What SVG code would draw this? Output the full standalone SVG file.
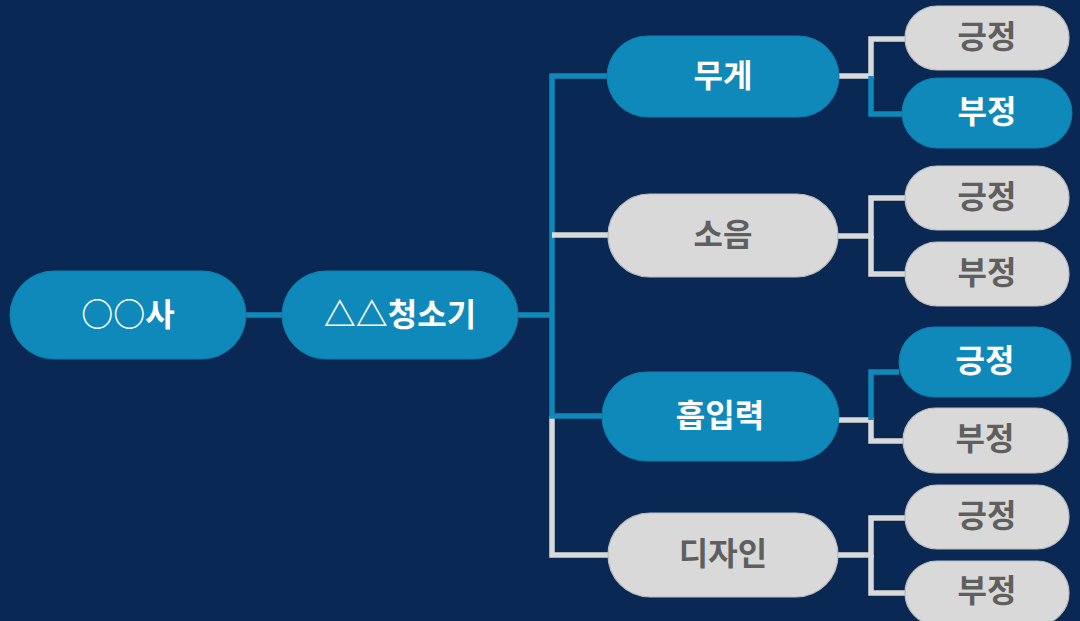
<svg xmlns="http://www.w3.org/2000/svg" width="1080" height="621" viewBox="0 0 1080 621">
<style>
.bg{fill:#0a2854}
.nb{fill:#0f89b9;stroke:#0d7fae;stroke-width:1}
.ng{fill:#d9d9d9;stroke:#bdbdbd;stroke-width:1.2}
.t{font-family:"Noto Sans CJK KR","Noto Sans",sans-serif;font-weight:700;text-anchor:middle;dominant-baseline:central}
.tw{fill:#ffffff;font-size:32px}
.tg{fill:#5f5f5f;font-size:32px}
.lb{fill:none;stroke:#0f89b9;stroke-width:5.5}
.lg{fill:none;stroke:#d9d9d9;stroke-width:5.5}
</style>
<rect class="bg" x="0" y="0" width="1080" height="621"/>
<g id="connectors">
  <path class="lb" d="M246,315 H282"/>
  <path class="lb" d="M518,315 H552"/>
  <path class="lg" d="M552,416 V555 H608"/>
  <path class="lb" d="M607,76 H552 V416 H602"/>
  <path class="lg" d="M552,235 H608"/>
  <path class="lg" d="M839,76 H871 V39 H905"/>
  <path class="lb" d="M871,76 V114 H902"/>
  <path class="lg" d="M838,236 H871 V198 H905"/>
  <path class="lg" d="M871,236 V274 H905"/>
  <path class="lg" d="M838,420 H871 V441 H903"/>
  <path class="lb" d="M871,420 V372 H899"/>
  <path class="lg" d="M838,555 H871 V518 H905"/>
  <path class="lg" d="M871,555 V593 H905"/>
</g>
<g id="node-company">
  <rect class="nb" x="10" y="271" width="236" height="88" rx="44"/>
  <text class="t tw" x="128" y="312">○○사</text>
</g>
<g id="node-product">
  <rect class="nb" x="282" y="271" width="236" height="88" rx="44"/>
  <text class="t tw" x="400" y="312">△△청소기</text>
</g>
<g id="node-weight">
  <rect class="nb" x="607" y="36" width="232" height="81" rx="40.5"/>
  <text class="t tw" x="723" y="73">무게</text>
</g>
<g id="node-noise">
  <rect class="ng" x="608" y="194" width="230" height="83" rx="41.5"/>
  <text class="t tg" x="723" y="232">소음</text>
</g>
<g id="node-suction">
  <rect class="nb" x="602" y="372" width="237" height="89" rx="44.5"/>
  <text class="t tw" x="720" y="413">흡입력</text>
</g>
<g id="node-design">
  <rect class="ng" x="608" y="513" width="230" height="84" rx="42"/>
  <text class="t tg" x="723" y="551">디자인</text>
</g>
<g id="leaf-weight-pos">
  <rect class="ng" x="905" y="6" width="164" height="64" rx="32"/>
  <text class="t tg" x="987" y="34">긍정</text>
</g>
<g id="leaf-weight-neg">
  <rect class="nb" x="902" y="78" width="170" height="70" rx="35"/>
  <text class="t tw" x="987" y="109">부정</text>
</g>
<g id="leaf-noise-pos">
  <rect class="ng" x="905" y="166" width="164" height="64" rx="32"/>
  <text class="t tg" x="987" y="194">긍정</text>
</g>
<g id="leaf-noise-neg">
  <rect class="ng" x="905" y="242" width="164" height="64" rx="32"/>
  <text class="t tg" x="987" y="270">부정</text>
</g>
<g id="leaf-suction-pos">
  <rect class="nb" x="899" y="327" width="172" height="70" rx="35"/>
  <text class="t tw" x="985" y="358">긍정</text>
</g>
<g id="leaf-suction-neg">
  <rect class="ng" x="903" y="408" width="165" height="65" rx="32.5"/>
  <text class="t tg" x="985" y="436">부정</text>
</g>
<g id="leaf-design-pos">
  <rect class="ng" x="905" y="485" width="164" height="64" rx="32"/>
  <text class="t tg" x="987" y="513">긍정</text>
</g>
<g id="leaf-design-neg">
  <rect class="ng" x="905" y="561" width="164" height="64" rx="32"/>
  <text class="t tg" x="987" y="588">부정</text>
</g>
</svg>
